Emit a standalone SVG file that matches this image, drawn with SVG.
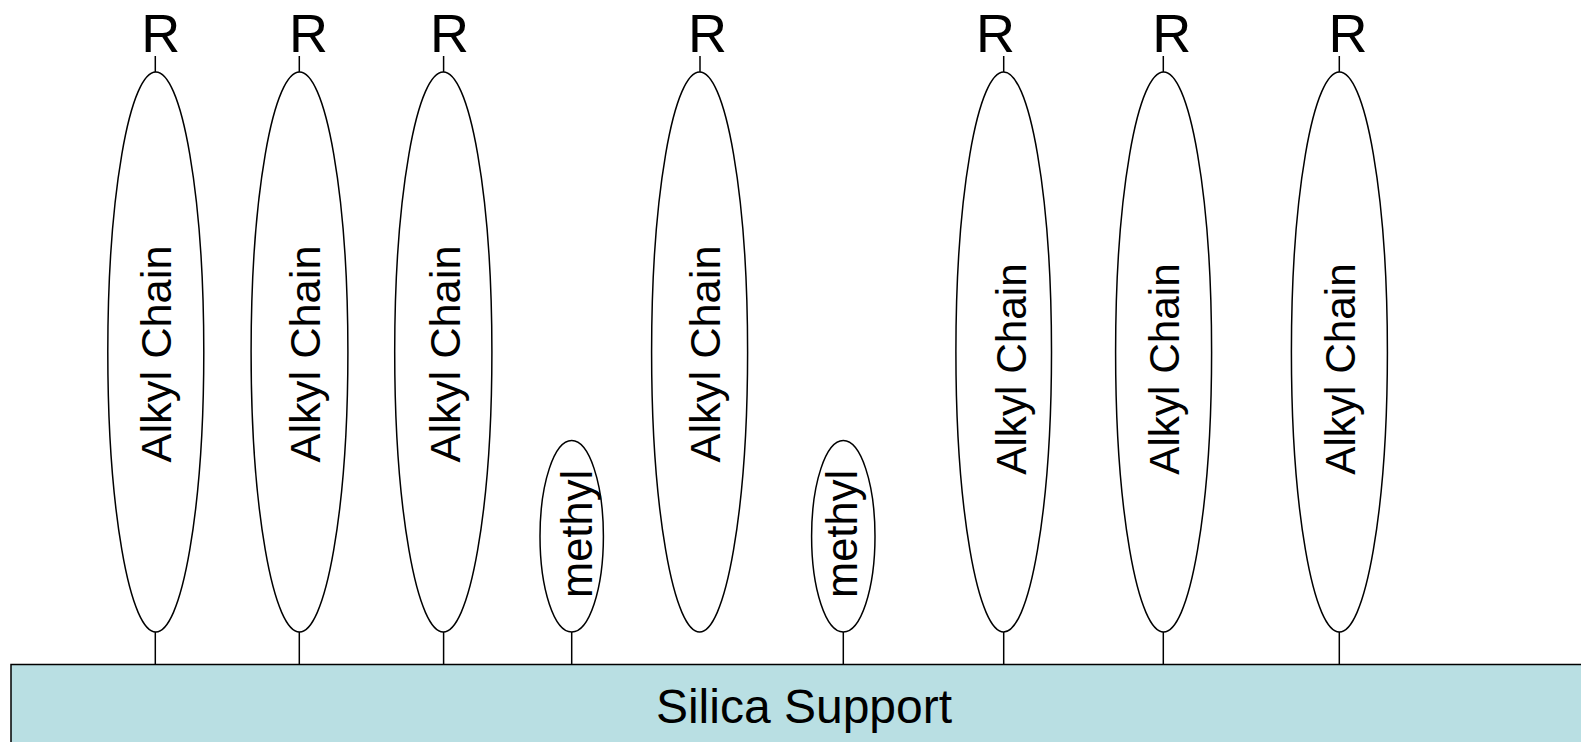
<svg xmlns="http://www.w3.org/2000/svg" width="1581" height="742" viewBox="0 0 1581 742">
  <style>
    .chain { fill: #ffffff; stroke: #000000; stroke-width: 1.5; }
    .lbl { font-family: "Liberation Sans", Arial, sans-serif; fill: #000000; text-anchor: middle; }
    .alkyl { font-size: 43.4px; }
    .alkyl2 { font-size: 42.3px; }
    .methyl { font-size: 43.5px; }
    .r { font-size: 54px; }
    .bond { stroke: #000000; stroke-width: 1.5; fill: none; }
    .support { fill: #B9DFE3; stroke: #000000; stroke-width: 1.5; }
  </style>

  <!-- support slab -->
  <g id="silica-support">
    <rect class="support" x="11" y="664.5" width="1590" height="100"/>
    <text class="lbl" x="804" y="723" font-size="48">Silica Support</text>
  </g>

  <!-- bonds: terminal R groups to chains, chains to support -->
  <g id="connectors">
    <line class="bond" x1="155.3" y1="56" x2="155.3" y2="72"/>
    <line class="bond" x1="299.3" y1="56" x2="299.3" y2="72"/>
    <line class="bond" x1="443.6" y1="56" x2="443.6" y2="72"/>
    <line class="bond" x1="700" y1="56" x2="700" y2="72"/>
    <line class="bond" x1="1003.7" y1="56" x2="1003.7" y2="72"/>
    <line class="bond" x1="1163.3" y1="56" x2="1163.3" y2="72"/>
    <line class="bond" x1="1339.3" y1="56" x2="1339.3" y2="72"/>

    <line class="bond" x1="155.3" y1="632" x2="155.3" y2="664.5"/>
    <line class="bond" x1="299.3" y1="632" x2="299.3" y2="664.5"/>
    <line class="bond" x1="443.6" y1="632" x2="443.6" y2="664.5"/>
    <line class="bond" x1="571.7" y1="632" x2="571.7" y2="664.5"/>
    <line class="bond" x1="843.3" y1="632" x2="843.3" y2="664.5"/>
    <line class="bond" x1="1003.7" y1="632" x2="1003.7" y2="664.5"/>
    <line class="bond" x1="1163.3" y1="632" x2="1163.3" y2="664.5"/>
    <line class="bond" x1="1339.3" y1="632" x2="1339.3" y2="664.5"/>
  </g>

  <!-- R end groups -->
  <g id="r-groups">
    <text class="lbl r" x="160.7" y="51.5">R</text>
    <text class="lbl r" x="308.5" y="51.5">R</text>
    <text class="lbl r" x="449.4" y="51.5">R</text>
    <text class="lbl r" x="707.5" y="51.5">R</text>
    <text class="lbl r" x="995.4" y="51.5">R</text>
    <text class="lbl r" x="1171.7" y="51.5">R</text>
    <text class="lbl r" x="1348" y="51.5">R</text>
  </g>

  <!-- alkyl chains -->
  <g id="alkyl-1">
    <ellipse class="chain" cx="155.8" cy="352" rx="48" ry="280"/>
    <text class="lbl alkyl" transform="translate(170.5 354) rotate(-90)">Alkyl Chain</text>
  </g>
  <g id="alkyl-2">
    <ellipse class="chain" cx="299.5" cy="352" rx="48.4" ry="280"/>
    <text class="lbl alkyl" transform="translate(320 354) rotate(-90)">Alkyl Chain</text>
  </g>
  <g id="alkyl-3">
    <ellipse class="chain" cx="443.3" cy="352" rx="48.6" ry="280"/>
    <text class="lbl alkyl" transform="translate(460.3 354) rotate(-90)">Alkyl Chain</text>
  </g>
  <g id="methyl-1">
    <ellipse class="chain" cx="571.7" cy="536.3" rx="31.7" ry="95.7"/>
    <text class="lbl methyl" transform="translate(591.5 534) rotate(-90)">methyl</text>
  </g>
  <g id="alkyl-4">
    <ellipse class="chain" cx="699.6" cy="352" rx="48" ry="280"/>
    <text class="lbl alkyl" transform="translate(719.5 354) rotate(-90)">Alkyl Chain</text>
  </g>
  <g id="methyl-2">
    <ellipse class="chain" cx="843.3" cy="536.3" rx="31.7" ry="95.7"/>
    <text class="lbl methyl" transform="translate(856.5 534) rotate(-90)">methyl</text>
  </g>
  <g id="alkyl-5">
    <ellipse class="chain" cx="1003.7" cy="352" rx="47.8" ry="280"/>
    <text class="lbl alkyl2" transform="translate(1026 369) rotate(-90)">Alkyl Chain</text>
  </g>
  <g id="alkyl-6">
    <ellipse class="chain" cx="1163.6" cy="352" rx="48" ry="280"/>
    <text class="lbl alkyl2" transform="translate(1178.5 369) rotate(-90)">Alkyl Chain</text>
  </g>
  <g id="alkyl-7">
    <ellipse class="chain" cx="1339.4" cy="352" rx="48" ry="280"/>
    <text class="lbl alkyl2" transform="translate(1354.8 369) rotate(-90)">Alkyl Chain</text>
  </g>
</svg>
